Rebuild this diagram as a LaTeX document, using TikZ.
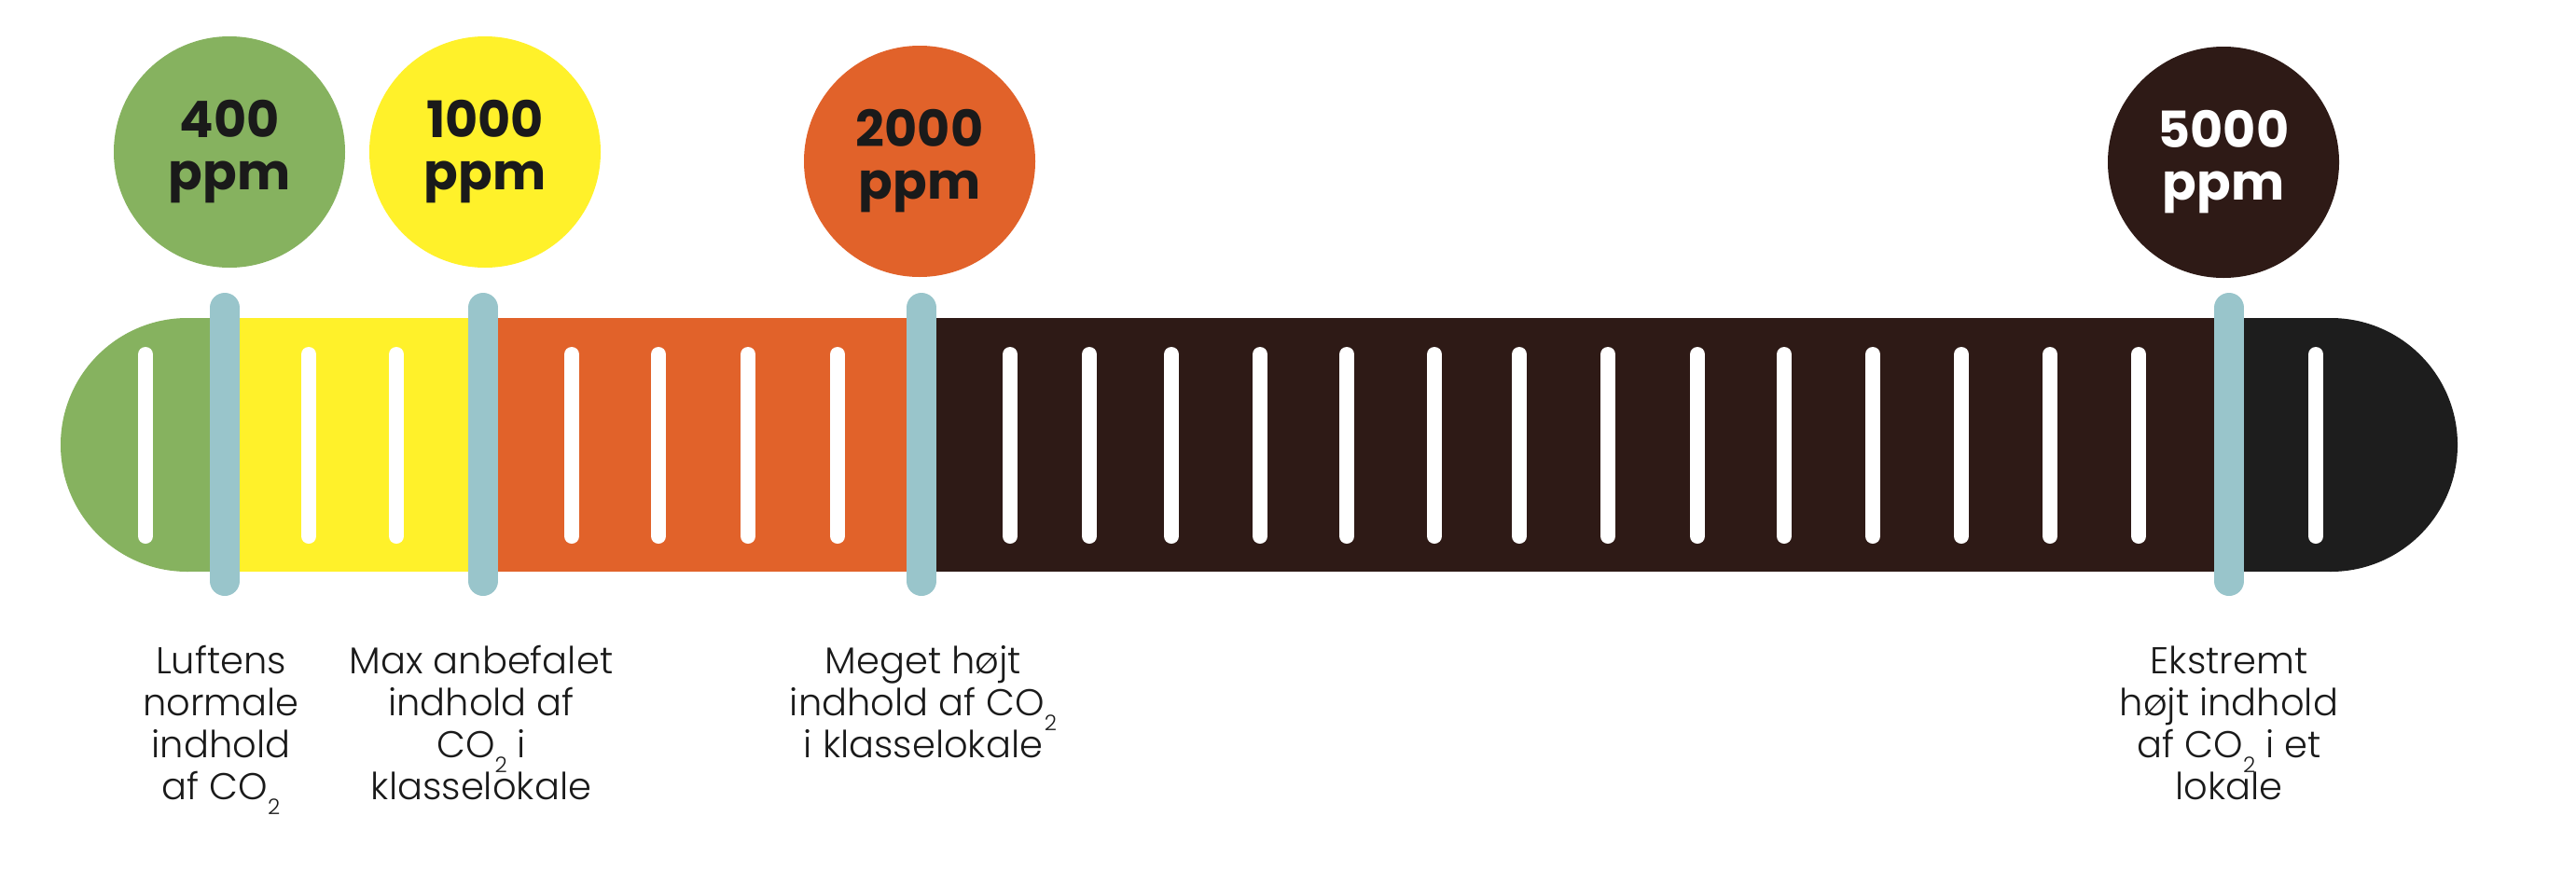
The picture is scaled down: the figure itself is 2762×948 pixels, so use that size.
\documentclass[tikz,border=0pt]{standalone}
\usepackage{fontspec}
\setmainfont{Poppins}
\newfontfamily\lightfont{Poppins Light}
\definecolor{cgreen}{HTML}{86B25F}
\definecolor{cyellow}{HTML}{FFF12A}
\definecolor{corange}{HTML}{E1622A}
\definecolor{cbrown}{HTML}{2E1A16}
\definecolor{cblack}{HTML}{1D1D1D}
\definecolor{cband}{HTML}{99C5CB}
\definecolor{ctext}{HTML}{1A1A1A}
\newcommand\subtwo{\raisebox{-0.4em}{\fontsize{23}{23}\selectfont 2}}
\begin{document}
\begin{tikzpicture}[x=1pt,y=-1pt,
  stripe/.style={draw=white,line width=16pt,line cap=round},
  band/.style={draw=cband,line width=32pt,line cap=round},
  bubble/.style={circle,minimum size=248pt,inner sep=0pt,align=center,
    font=\fontsize{54}{56}\selectfont\bfseries,text=ctext},
  lbl/.style={anchor=base,inner sep=0pt,text=ctext,font=\lightfont\fontsize{40}{45}\selectfont}]
\useasboundingbox (0,0) rectangle (2762,948);
\fill[white] (0,0) rectangle (2762,948);
% bar
\fill[cgreen] (201,477) circle[radius=136pt];
\fill[cgreen] (201,341) rectangle (241,613);
\fill[cblack] (2499,477) circle[radius=136pt];
\fill[cblack] (2390,341) rectangle (2499,613);
\fill[cyellow] (241,341) rectangle (518,613);
\fill[corange] (518,341) rectangle (988,613);
\fill[cbrown] (988,341) rectangle (2390,613);
% stripes
\foreach \x in {156,331,425,613,706,802,898,1083,1168,1256,1351,1444,1538,1629,1724,1820,1913,2008,2103,2198,2293,2483}
  \draw[stripe] (\x,380) -- (\x,575);
% bands
\foreach \x in {241,518,988,2390}
  \draw[band] (\x,330) -- (\x,623);
% bubbles
\node[bubble,fill=cgreen] (c400) at (246,163) {400\\ppm};
\node[bubble,fill=cyellow] (c1000) at (520,163) {1000\\ppm};
\node[bubble,fill=corange] (c2000) at (986,173) {2000\\ppm};
\node[bubble,fill=cbrown,text=white] (c5000) at (2384,174) {5000\\ppm};
% labels
\node[lbl] (l1a) at (237,722) {Luftens};
\node[lbl] (l1b) at (237,767) {normale};
\node[lbl] (l1c) at (237,812) {indhold};
\node[lbl] (l1d) at (237,857) {af CO\subtwo};
\node[lbl] (l2a) at (516,722) {Max anbefalet};
\node[lbl] (l2b) at (516,767) {indhold af};
\node[lbl] (l2c) at (516,812) {CO\subtwo{} i};
\node[lbl] (l2d) at (516,857) {klasselokale};
\node[lbl] (l3a) at (990,722) {Meget højt};
\node[lbl] (l3b) at (990,767) {indhold af CO\subtwo};
\node[lbl] (l3c) at (990,812) {i klasselokale};
\node[lbl] (l4a) at (2390,722) {Ekstremt};
\node[lbl] (l4b) at (2390,767) {højt indhold};
\node[lbl] (l4c) at (2390,812) {af CO\subtwo{} i et};
\node[lbl] (l4d) at (2390,857) {lokale};
\end{tikzpicture}
\end{document}
